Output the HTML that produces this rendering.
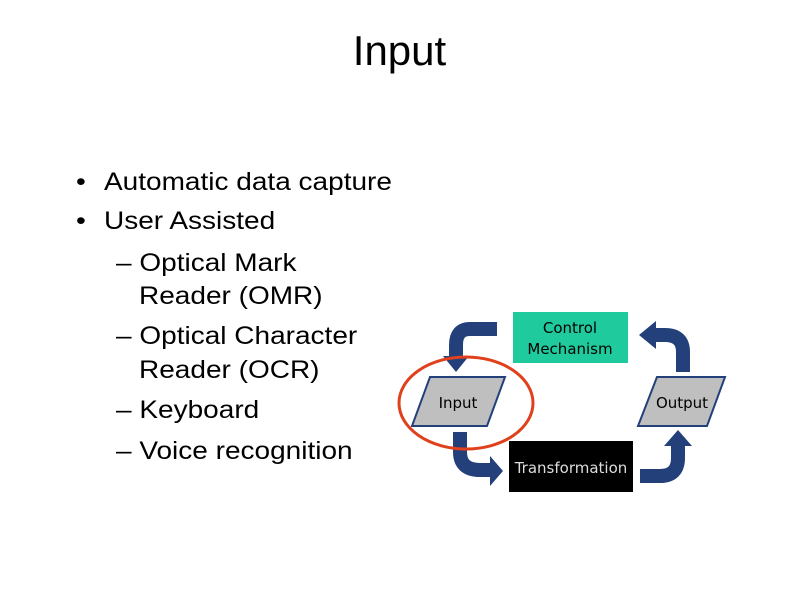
<!DOCTYPE html>
<html><head><style>
body{margin:0;width:799px;height:598px;background:#fff;position:relative;font-family:"Liberation Sans",sans-serif;overflow:hidden}
.t{position:absolute;white-space:nowrap;font-size:25px;color:#000;line-height:1;transform:scaleX(1.12);transform-origin:0 0}
</style></head><body>
<div class="t" style="left:0;width:799px;text-align:center;top:30px;font-size:42px;transform:none">Input</div>
<div class="t" style="left:76px;top:170px">•</div><div class="t" style="left:104px;top:170px">Automatic data capture</div>
<div class="t" style="left:76px;top:209px">•</div><div class="t" style="left:104px;top:209px">User Assisted</div>
<div class="t" style="left:116px;top:251px">– Optical Mark</div>
<div class="t" style="left:139px;top:284px">Reader (OMR)</div>
<div class="t" style="left:116px;top:324px">– Optical Character</div>
<div class="t" style="left:139px;top:358px">Reader (OCR)</div>
<div class="t" style="left:116px;top:398px">– Keyboard</div>
<div class="t" style="left:116px;top:439px">– Voice recognition</div>
<svg width="799" height="598" style="position:absolute;left:0;top:0" font-family="DejaVu Sans, sans-serif">
<rect x="513" y="312" width="115" height="51" fill="#1fcb9d"/>
<text x="570" y="333" font-size="15" text-anchor="middle">Control</text>
<text x="570" y="354" font-size="15" text-anchor="middle">Mechanism</text>
<rect x="509" y="441" width="124" height="51" fill="#000"/>
<text x="571" y="473" font-size="15" fill="#ddd" text-anchor="middle">Transformation</text>
<polygon points="430,377 505,377 487,426 412,426" fill="#bfbfbf" stroke="#24407a" stroke-width="2"/>
<text x="458" y="408" font-size="15" text-anchor="middle">Input</text>
<polygon points="657,377 725,377 707,426 638,426" fill="#bfbfbf" stroke="#24407a" stroke-width="2"/>
<text x="682" y="408" font-size="15" text-anchor="middle">Output</text>
<g fill="none" stroke="#24407a" stroke-width="14">
<path d="M497,329 H470 Q456,329 456,345 V358"/>
<path d="M460,432 V452 Q460,470 480,470 H492"/>
<path d="M640,476 H660 Q678,476 678,458 V446"/>
<path d="M683,372 V352 Q683,335 665,335 H655"/>
</g>
<g fill="#24407a">
<polygon points="443,356 469,356 456,372"/>
<polygon points="490,456 490,486 503,471"/>
<polygon points="664,446 692,446 678,430"/>
<polygon points="656,321 656,349 639,335"/>
</g>
<ellipse cx="466" cy="403" rx="67" ry="46" fill="none" stroke="#e0401c" stroke-width="3"/>
</svg>
</body></html>
